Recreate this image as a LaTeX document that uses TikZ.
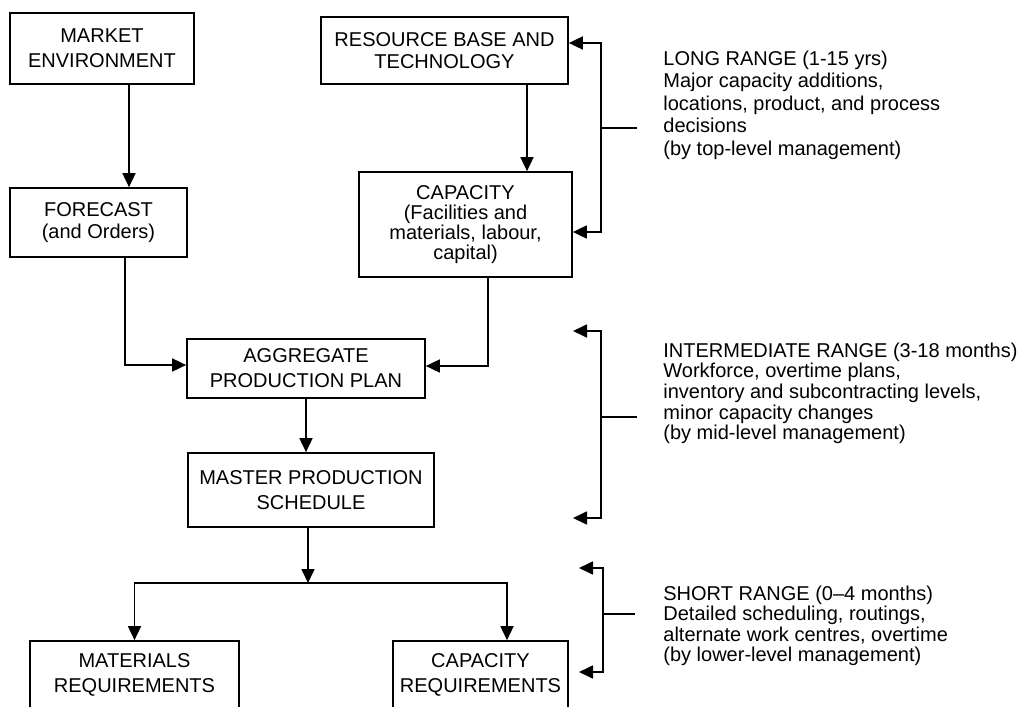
\documentclass[tikz,border=0pt]{standalone}
\usepackage{fontspec}
\setmainfont{Liberation Sans}
\usetikzlibrary{arrows.meta}
\begin{document}
\begin{tikzpicture}[x=0.5pt,y=-0.5pt,
  every node/.style={font=\fontsize{10}{12.5}\selectfont},
  box/.style={draw, line width=0.85pt, align=center, inner sep=0pt},
  arr/.style={line width=0.85pt, -{Triangle[length=7pt,width=6.5pt]}},
  barr/.style={line width=0.85pt, {Triangle[length=7pt,width=6.5pt]}-{Triangle[length=7pt,width=6.5pt]}},
  plain/.style={line width=0.85pt},
  note/.style={align=left, anchor=north west, inner sep=0pt}]
\clip (0,0) rectangle (1024,707);
\fill[white] (0,0) rectangle (1024,707);

% boxes
\node[box, minimum width=92pt, minimum height=35.5pt] (market) at (102,48.5) {MARKET\\ENVIRONMENT};
\node[box, minimum width=88.5pt, minimum height=34.5pt, font=\fontsize{10}{11}\selectfont] (forecast) at (98.5,222.5) {FORECAST\\(and Orders)};
\node[box, minimum width=123.5pt, minimum height=33.5pt, font=\fontsize{10}{11}\selectfont] (resource) at (444.5,50.5) {RESOURCE BASE AND\\TECHNOLOGY};
\node[box, minimum width=106.5pt, minimum height=52.5pt, font=\fontsize{10}{10}\selectfont] (capacity) at (465.5,224.5) {CAPACITY\\(Facilities and\\materials, labour,\\capital)};
\node[box, minimum width=119pt, minimum height=29.5pt] (aggregate) at (306,368.5) {AGGREGATE\\PRODUCTION PLAN};
\node[box, minimum width=123pt, minimum height=37pt] (mps) at (311,490) {MASTER PRODUCTION\\SCHEDULE};
\node[box, minimum width=104.5pt, minimum height=34pt] (materials) at (134.5,675) {MATERIALS\\REQUIREMENTS};
\node[box, minimum width=87.5pt, minimum height=34pt] (capreq) at (480.5,675) {CAPACITY\\REQUIREMENTS};

% helper coordinates
\coordinate (c1) at (129,0);
\coordinate (c2) at (125,365);
\coordinate (c3) at (527,0);
\coordinate (c4) at (488,366);
\coordinate (J) at (308,583);
\coordinate (c5) at (507,583);

% connectors
\draw[arr] (market.south -| c1) -- (forecast.north -| c1);
\draw[arr] (forecast.south -| c2) -- (c2) -- (aggregate.west |- c2);
\draw[arr] (resource.south -| c3) -- (capacity.north -| c3);
\draw[arr] (capacity.south -| c4) -- (c4) -- (aggregate.east |- c4);
\draw[arr] (aggregate.south) -- (aggregate.south |- mps.north);
\draw[arr] (mps.south -| J) -- (J);
\draw[arr] (J) -| (materials.north);
\draw[arr] (J) -| (capreq.north -| c5);

% long range bracket
\coordinate (LT) at (601,43);
\coordinate (LB) at (601,232);
\coordinate (LM) at (601,128);
\coordinate (LE) at (637,128);
\draw[barr] (resource.east |- LT) -- (LT) -- (LB) -- (capacity.east |- LB);
\draw[plain] (LM) -- (LE);

% intermediate range bracket
\coordinate (ITa) at (573,331);
\coordinate (IT) at (601,331);
\coordinate (IB) at (601,518);
\coordinate (IBa) at (573,518);
\coordinate (IM) at (601,417);
\coordinate (IE) at (637,417);
\draw[barr] (ITa) -- (IT) -- (IB) -- (IBa);
\draw[plain] (IM) -- (IE);

% short range bracket
\coordinate (STa) at (579,568);
\coordinate (ST) at (603,568);
\coordinate (SB) at (603,672);
\coordinate (SBa) at (579,672);
\coordinate (SM) at (603,614);
\coordinate (SE) at (635,614);
\draw[barr] (STa) -- (ST) -- (SB) -- (SBa);
\draw[plain] (SM) -- (SE);

% notes
\node[note, font=\fontsize{10}{11.25}\selectfont] (long) at (663,50.5) {LONG RANGE (1-15 yrs)\\Major capacity additions,\\locations, product, and process\\decisions\\(by top-level management)};
\node[note, font=\fontsize{10}{10.3}\selectfont] (inter) at (663,342.5) {INTERMEDIATE RANGE (3-18 months)\\Workforce, overtime plans,\\inventory and subcontracting levels,\\minor capacity changes\\(by mid-level management)};
\node[note, font=\fontsize{10}{10.2}\selectfont] (short) at (663,585.5) {SHORT RANGE (0--4 months)\\Detailed scheduling, routings,\\alternate work centres, overtime\\(by lower-level management)};
\end{tikzpicture}
\end{document}
